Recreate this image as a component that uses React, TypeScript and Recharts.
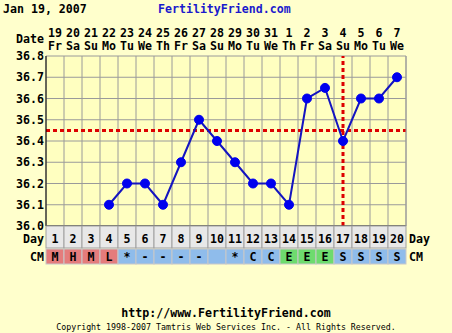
import React from 'react'
import {
    ComposedChart,
    Line,
    XAxis,
    YAxis,
    CartesianGrid,
    ReferenceLine,
} from 'recharts'

// chart values
const days = [1, 2, 3, 4, 5, 6, 7, 8, 9, 10, 11, 12, 13, 14, 15, 16, 17, 18, 19, 20]
const dates = ['19', '20', '21', '22', '23', '24', '25', '26', '27', '28', '29', '30', '31', '1', '2', '3', '4', '5', '6', '7']
const weekdays = ['Fr', 'Sa', 'Su', 'Mo', 'Tu', 'We', 'Th', 'Fr', 'Sa', 'Su', 'Mo', 'Tu', 'We', 'Th', 'Fr', 'Sa', 'Su', 'Mo', 'Tu', 'We']
const temps = [null, null, null, 36.1, 36.2, 36.2, 36.1, 36.3, 36.5, 36.4, 36.3, 36.2, 36.2, 36.1, 36.6, 36.65, 36.4, 36.6, 36.6, 36.7]
const cmCodes = ['M', 'H', 'M', 'L', '*', '-', '-', '-', '-', '', '*', 'C', 'C', 'E', 'E', 'E', 'S', 'S', 'S', 'S']
const cmKinds = ['r', 'r', 'r', 'r', 'b', 'b', 'b', 'b', 'b', 'b', 'b', 'b', 'b', 'g', 'g', 'g', 'b', 'b', 'b', 'b']
const tempTicks = [36.0, 36.1, 36.2, 36.3, 36.4, 36.5, 36.6, 36.7, 36.8]
const coverline = 36.45
const ovulationDay = 17

const data = days.map((d, i) => ({ day: d, temp: temps[i] }))
const boundaries = [0.5, ...days.map((d) => d + 0.5)]

const MONO = '"DejaVu Sans Mono", monospace'
const CELL = 18
const cmColors: Record<string, string> = { r: '#E47C7C', b: '#8FBCEB', g: '#6EDB6E' }

const TopTick = (props: any) => {
    const { x, y, index } = props
    return (
        <g fontFamily={MONO} fontWeight="bold" fontSize={11.6} fill="#000">
            {index === 0 && (
                <text x={x - 11} y={y - 13} textAnchor="end">
                    Date
                </text>
            )}
            <text x={x} y={y - 19} textAnchor="middle">
                {dates[index]}
            </text>
            <text x={x} y={y - 6} textAnchor="middle">
                {weekdays[index]}
            </text>
        </g>
    )
}

const BottomTick = (props: any) => {
    const { x, y, index } = props
    const last = index === days.length - 1
    return (
        <g fontFamily={MONO} fontWeight="bold" fontSize={11.6}>
            <rect x={x - CELL / 2} y={y} width={CELL} height={22} fill="#E8E8E8" stroke="#A0A0A0" />
            <text x={x} y={y + 17} textAnchor="middle" fill="#000">
                {days[index]}
            </text>
            <rect x={x - CELL / 2} y={y + 23} width={CELL} height={15} fill={cmColors[cmKinds[index]]} stroke="#C8C8C8" />
            <text x={x} y={y + 35} textAnchor="middle" fill="#000">
                {cmCodes[index]}
            </text>
            {index === 0 && (
                <>
                    <text x={x - 11} y={y + 17} textAnchor="end" fill="#000">
                        Day
                    </text>
                    <text x={x - 11} y={y + 35} textAnchor="end" fill="#000">
                        CM
                    </text>
                </>
            )}
            {last && (
                <>
                    <text x={x + 12} y={y + 17} fill="#000">
                        Day
                    </text>
                    <text x={x + 12} y={y + 35} fill="#000">
                        CM
                    </text>
                </>
            )}
        </g>
    )
}

export default function App() {
    return (
        <div
            style={{
                position: 'absolute',
                left: 0,
                top: 0,
                width: 452,
                height: 333,
                background: '#FFFFCC',
                fontFamily: MONO,
                fontWeight: 'bold',
            }}
        >
            <div style={{ position: 'absolute', left: 3, top: 2, fontSize: 11.6, color: '#000' }}>
                Jan 19, 2007
            </div>
            <div style={{ position: 'absolute', left: 158, top: 2, fontSize: 11.6, color: '#1A1ACC' }}>
                FertilityFriend.com
            </div>
            <ComposedChart
                width={452}
                height={333}
                data={data}
                margin={{ top: 26, right: 6, bottom: 69, left: 6 }}
            >
                <CartesianGrid vertical={false} stroke="#9A9A9A" fill="#FFFFC0" />
                {boundaries.map((b) => (
                    <ReferenceLine key={b} x={b} stroke="#9A9A9A" />
                ))}
                <XAxis
                    dataKey="day"
                    type="number"
                    domain={[0.5, 20.5]}
                    ticks={days}
                    tick={<BottomTick />}
                    tickLine={false}
                    tickSize={0}
                    tickMargin={0}
                    height={38}
                    axisLine={{ stroke: '#000' }}
                    interval={0}
                />
                <XAxis
                    xAxisId="top"
                    dataKey="day"
                    type="number"
                    orientation="top"
                    domain={[0.5, 20.5]}
                    ticks={days}
                    tick={<TopTick />}
                    tickLine={false}
                    tickSize={0}
                    tickMargin={0}
                    height={30}
                    axisLine={false}
                    interval={0}
                />
                <YAxis
                    domain={[36.0, 36.8]}
                    ticks={tempTicks}
                    tickFormatter={(v: number) => v.toFixed(1)}
                    tick={{ fontFamily: MONO, fontWeight: 'bold', fontSize: 11.6, fill: '#000' }}
                    tickLine={false}
                    tickSize={0}
                    tickMargin={2}
                    width={40}
                    axisLine={{ stroke: '#000' }}
                    interval={0}
                />
                <YAxis
                    yAxisId="r"
                    orientation="right"
                    domain={[36.0, 36.8]}
                    ticks={tempTicks}
                    tickFormatter={(v: number) => v.toFixed(1)}
                    tick={{ fontFamily: MONO, fontWeight: 'bold', fontSize: 11.6, fill: '#000', textAnchor: 'start' }}
                    tickLine={false}
                    tickSize={0}
                    tickMargin={4}
                    width={40}
                    axisLine={{ stroke: '#9A9A9A' }}
                    interval={0}
                />
                <ReferenceLine y={coverline} stroke="#DD0000" strokeWidth={3} strokeDasharray="4 3" />
                <ReferenceLine x={ovulationDay} stroke="#DD0000" strokeWidth={3} strokeDasharray="4 3" />
                <Line
                    dataKey="temp"
                    stroke="#1414C0"
                    strokeWidth={2}
                    dot={{ r: 4.5, fill: '#0000EE', stroke: '#0000EE', strokeWidth: 1 }}
                    connectNulls={false}
                    isAnimationActive={false}
                    type="linear"
                />
            </ComposedChart>
            <div
                style={{
                    position: 'absolute',
                    left: 0,
                    width: 452,
                    top: 306,
                    textAlign: 'center',
                    fontSize: 11.6,
                    color: '#000',
                }}
            >
                http://www.FertilityFriend.com
            </div>
            <div
                style={{
                    position: 'absolute',
                    left: 0,
                    width: 452,
                    top: 322,
                    textAlign: 'center',
                    fontSize: 8.3,
                    fontWeight: 'normal',
                    color: '#000',
                }}
            >
                Copyright 1998-2007 Tamtris Web Services Inc. - All Rights Reserved.
            </div>
        </div>
    )
}
